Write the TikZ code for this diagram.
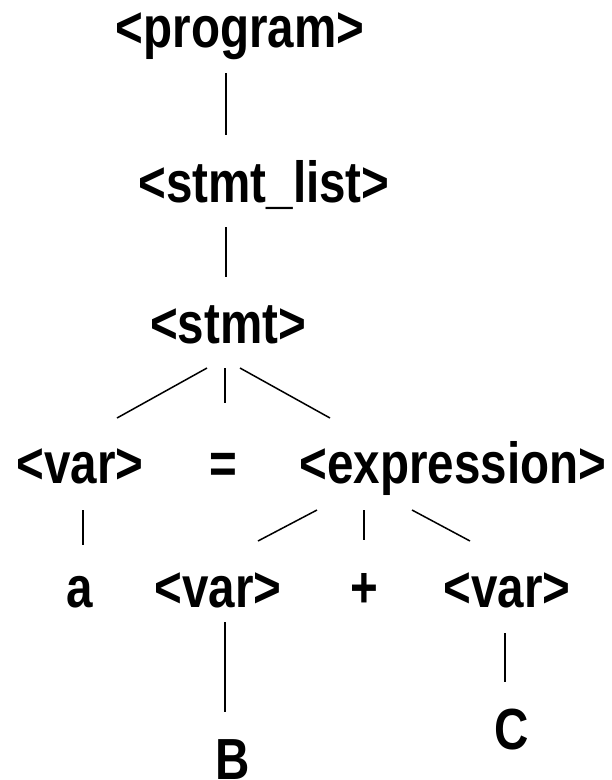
\documentclass[tikz,border=0pt]{standalone}
\usepackage{fontspec}
\setmainfont{Liberation Sans}[FakeStretch=0.82,BoldFeatures={FakeStretch=0.82}]
\begin{document}
\begin{tikzpicture}[x=1pt,y=-1pt,
    sym/.style={anchor=base,inner sep=0pt,font=\fontsize{58}{60}\selectfont\bfseries},
    edge/.style={line width=1.5pt}]
    \useasboundingbox (0,0) rectangle (612,780);

    % Nonterminals and terminals
    \node[sym] (prog) at (240,47) {<program>};
    \node[sym] (list) at (264,202) {<stmt\_list>};
    \node[sym] (stmt) at (228,343) {<stmt>};
    \node[sym] (var1) at (80,483) {<var>};
    \node[sym] (eq) at (223,483) {=};
    \node[sym] (expr) at (453,483) {<expression>};
    \node[sym] (a) at (80,607) {a};
    \node[sym] (var2) at (218,607) {<var>};
    \node[sym] (plus) at (364,607) {+};
    \node[sym] (var3) at (507,607) {<var>};
    \node[sym] (B) at (233,779) {B};
    \node[sym] (C) at (512,749) {C};

    % Branches
    \draw[edge] ([shift={(-14,26)}]prog.base) -- ([shift={(-38,-67)}]list.base);
    \draw[edge] ([shift={(-38,25)}]list.base) -- ([shift={(-2,-66)}]stmt.base);
    \draw[edge] ([shift={(-21,25)}]stmt.base) -- ([shift={(37,-65)}]var1.base);
    \draw[edge] ([shift={(-3,25)}]stmt.base) -- ([shift={(2,-80)}]eq.base);
    \draw[edge] ([shift={(12,25)}]stmt.base) -- ([shift={(-123,-65)}]expr.base);
    \draw[edge] ([shift={(3,27)}]var1.base) -- ([shift={(3,-62)}]a.base);
    \draw[edge] ([shift={(-136,27)}]expr.base) -- ([shift={(40,-66)}]var2.base);
    \draw[edge] ([shift={(-89,27)}]expr.base) -- ([shift={(0,-67)}]plus.base);
    \draw[edge] ([shift={(-41,27)}]expr.base) -- ([shift={(-37,-66)}]var3.base);
    \draw[edge] ([shift={(7,15)}]var2.base) -- ([shift={(-8,-67)}]B.base);
    \draw[edge] ([shift={(-2,26)}]var3.base) -- ([shift={(-7,-67)}]C.base);
\end{tikzpicture}
\end{document}
